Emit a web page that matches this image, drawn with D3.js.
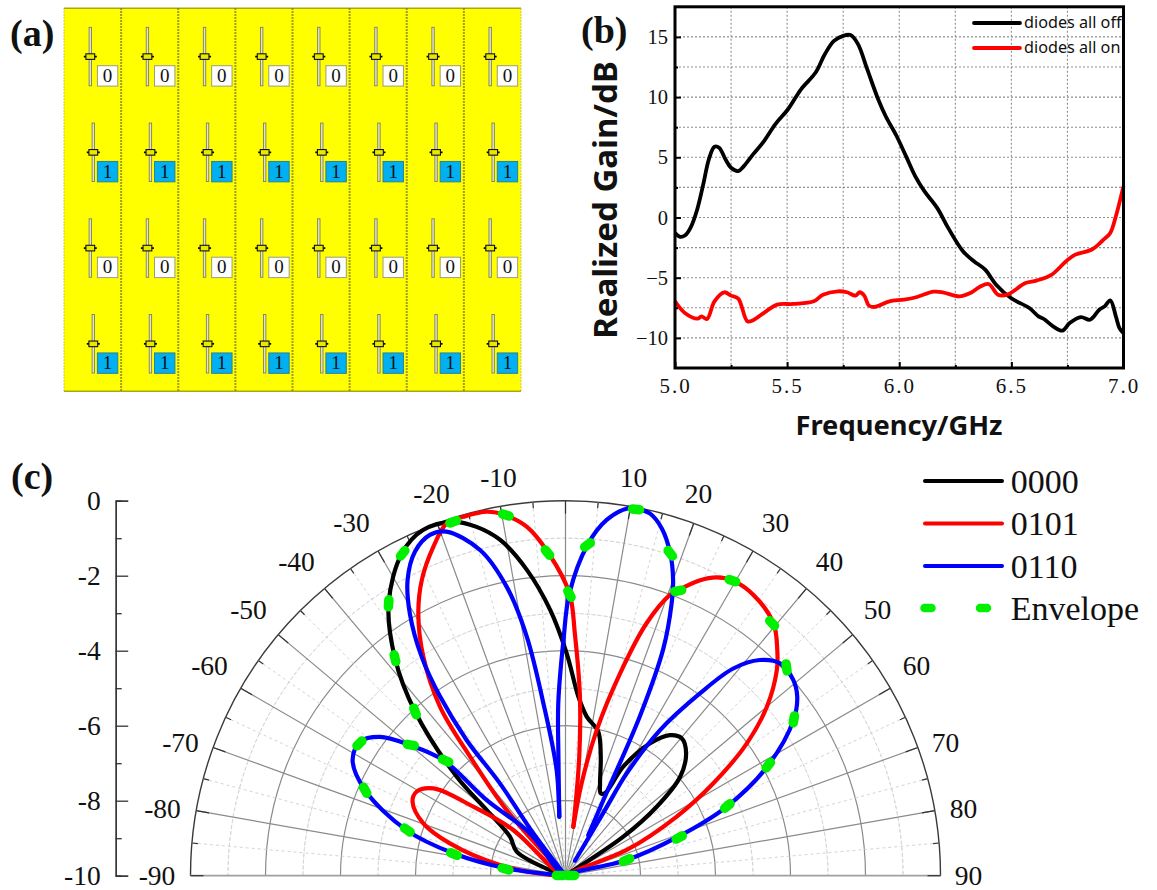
<!DOCTYPE html>
<html>
<head>
<meta charset="utf-8">
<script src="https://cdn.jsdelivr.net/npm/d3@7"></script>
<style>
  body { margin: 0; background: #fff; }
  svg { display: block; }
  text { fill: #111; }
  .serif { font-family: "Liberation Serif", serif; }
  .sans { font-family: "Noto Sans", sans-serif; }
</style>
</head>
<body>
<svg id="chart" width="1157" height="890"></svg>
<script>
// panel (a): coding sequence of each row, repeated over the columns
const rowCodes = [0, 1, 0, 1];
const columns = d3.range(8);

// panel (b): frequency in GHz, realized gain in dB
const offFreq = [5.0,5.023,5.044,5.069,5.099,5.126,5.151,5.176,5.197,5.225,5.25,5.282,5.307,5.348,5.397,5.447,5.504,5.562,5.627,5.668,5.709,5.75,5.783,5.816,5.857,5.906,5.939,5.988,6.03,6.071,6.112,6.169,6.218,6.284,6.333,6.383,6.432,6.498,6.58,6.621,6.645,6.686,6.727,6.76,6.81,6.851,6.892,6.916,6.941,6.966,6.982,7.0];
const offGain = [-1.28,-1.61,-1.5,-0.86,0.67,2.75,4.83,5.88,5.8,4.83,4.13,3.86,4.27,5.24,6.35,7.74,8.99,10.65,12.04,13.56,14.67,15.09,15.15,14.4,12.32,9.82,8.43,6.77,5.1,3.44,2.19,0.8,-0.86,-2.8,-3.63,-4.33,-5.58,-6.69,-7.52,-8.21,-8.43,-9.04,-9.4,-8.77,-8.27,-8.49,-7.66,-7.38,-6.88,-8.21,-9.18,-9.6];
const onFreq = [5.0,5.044,5.102,5.118,5.143,5.176,5.22,5.25,5.282,5.323,5.348,5.406,5.455,5.529,5.619,5.66,5.726,5.767,5.805,5.824,5.844,5.865,5.89,5.956,6.021,6.079,6.153,6.194,6.268,6.317,6.358,6.399,6.44,6.481,6.563,6.612,6.678,6.744,6.785,6.859,6.908,6.941,6.966,7.0];
const onGain = [-6.96,-7.93,-8.4,-8.21,-8.43,-6.96,-6.21,-6.49,-6.74,-8.63,-8.54,-7.79,-7.24,-7.18,-6.96,-6.41,-6.13,-6.21,-6.49,-6.21,-6.49,-7.32,-7.43,-6.96,-6.82,-6.6,-6.16,-6.21,-6.55,-6.27,-5.77,-5.52,-6.41,-6.41,-5.44,-5.24,-4.77,-3.63,-3.08,-2.66,-1.89,-1.28,0.11,2.61];
const freqTicks = [5.0, 5.5, 6.0, 6.5, 7.0];
const gainTicks = [15, 10, 5, 0, -5, -10];

// panel (c): [angle in degrees, gain in dB], one list per lobe so the nulls stay sharp
const code0000 = [[-90,-10],[-71.8,-9.66],[-63.8,-8.55],[-54.9,-8.19],[-50.2,-7.26],[-47.7,-6.08],[-42.5,-4.06],[-38.1,-2.63],[-33.0,-1.34],[-26.9,-0.36],[-22.4,-0.03],[-17.6,-0.1],[-14.3,-0.4],[-11.0,-0.88],[-7.2,-1.78],[-3.3,-2.9],[0.3,-4.07],[4.1,-5.21],[7.6,-5.72],[12.8,-6.06],[16.5,-6.69],[20.5,-7.37],[23.1,-7.61],[25.6,-7.56],[27.9,-6.71],[32.6,-5.81],[36.6,-5.33],[40.2,-5.2],[44.6,-5.42],[49.2,-5.96],[52.9,-6.95],[56.0,-8.14],[56.7,-9.64],[60,-10]];
const code0101a = [[-90,-10],[-87.5,-9.59],[-80.8,-8.23],[-74.4,-6.8],[-69.8,-5.96],[-64.2,-5.47],[-60.6,-5.44],[-56.5,-5.78],[-53.2,-6.93],[-48.8,-8.15],[-65.6,-9.74],[-60,-10]];
const code0101b = [[-45,-10],[-41.9,-7.65],[-38.7,-5.93],[-36.6,-4.39],[-33.0,-3.04],[-29.3,-1.98],[-25.9,-1.23],[-21.9,-0.55],[-18.6,-0.08],[-15.9,-0.05],[-12.2,-0.07],[-9.5,-0.25],[-6.3,-0.64],[-3.0,-1.39],[0.8,-2.47],[2.2,-3.53],[4.6,-5.21],[6.6,-6.81],[9.1,-8.68]];
const code0101c = [[9.1,-8.68],[9.9,-7.5],[12.1,-6.03],[15.1,-4.41],[17.8,-2.93],[20.4,-2.01],[21.3,-1.85],[24.5,-1.34],[26.9,-1.08],[29.6,-0.95],[33.8,-0.99],[39.5,-1.28],[43.2,-1.75],[45.8,-2.14],[50.0,-2.99],[53.9,-4.02],[58.0,-5.35],[62.0,-6.64],[67.2,-8.23],[63.1,-9.67],[60,-10]];
const code0110a = [[-90,-10],[-82.9,-8.42],[-78.7,-6.95],[-74.0,-5.59],[-66.9,-4.19],[-61.5,-3.54],[-56.9,-3.46],[-53.2,-3.82],[-50.0,-4.58],[-46.6,-5.51],[-46.2,-7.09],[-40.0,-8.53],[-50.3,-9.69],[-50,-10]];
const code0110b = [[-45,-10],[-37.2,-8.58],[-35.4,-6.98],[-36.1,-5.52],[-35.0,-4.17],[-33.3,-3.01],[-30.7,-1.87],[-28.1,-1.06],[-24.9,-0.47],[-21.7,-0.22],[-19.1,-0.29],[-14.7,-1.02],[-11.5,-2.14],[-9.2,-3.54],[-7.3,-5.37],[-4.8,-7.17],[-6.0,-8.42]];
const code0110c = [[-6.0,-8.42],[-3.4,-6.82],[-2.4,-5.4],[-0.5,-3.72],[0.8,-2.47],[3.8,-1.16],[6.6,-0.45],[9.7,-0.06],[10.9,-0.03],[13.1,-0.08],[15.5,-0.39],[18.0,-0.96],[20.0,-1.61],[21.3,-2.21],[23.3,-3.4],[25.0,-5.3],[26.6,-7.74],[29.3,-8.76]];
const code0110d = [[32.3,-9.53],[31.0,-7.96],[30.9,-6.82],[33.0,-5.37],[36.4,-3.96],[39.0,-2.89],[42.0,-2.26],[45.3,-1.95],[49.3,-1.99],[52.3,-2.19],[55.7,-2.64],[61.4,-3.84],[66.8,-5.32],[70.9,-6.82],[75.6,-8.32],[62.6,-9.86],[60,-10]];
// envelope: centre of each green dash, broken where the envelope jumps between lobes
const envelopeRuns = [
  [[-88,-9.85],[88,-9.85]],
  [[-83.6,-8.39],[-79.0,-6.97],[-73.9,-5.61],[-66.9,-4.19],[-57.3,-3.47],[-49.8,-4.6],[-46.2,-5.57]],
  [[-42.5,-4.06],[-38.1,-2.63],[-33.0,-1.34],[-26.8,-0.37],[-17.6,-0.1],[-9.4,-0.25],[-3.2,-1.37],[0.8,-2.49]],
  [[3.8,-1.16],[10.9,-0.05],[18.0,-0.96]],
  [[21.6,-1.83],[29.5,-0.96],[39.3,-1.3]],
  [[46.7,-1.9],[55.6,-2.62],[61.4,-3.84],[66.7,-5.3],[71.4,-6.8],[75.6,-8.32]]
];
const spokes = d3.range(-90, 91, 5);
const rings = d3.range(-9, 1);
const angleLabels = [-90,-80,-70,-60,-50,-40,-30,-20,-10,10,20,30,40,50,60,70,80,90];
const radialTicks = [0,-2,-4,-6,-8,-10];
const radialMinor = [-1,-3,-5,-7,-9];
const legendNames = ["0000", "0101", "0110"];

const svg = d3.select("#chart");

// ---------- panel (a) ----------
const colX = d3.scaleBand().domain(columns).range([64, 521]);
const rowY = d3.scaleBand().domain(d3.range(rowCodes.length)).range([8.3, 391.3]);
const panelA = svg.append("g");

panelA.append("rect").attr("x", 64).attr("y", 8.3).attr("width", 457).attr("height", 383)
  .attr("fill", "#ffff00");
panelA.selectAll("line.edge").data([8.3, 391.3]).enter().append("line")
  .attr("x1", 64).attr("x2", 521).attr("y1", d => d).attr("y2", d => d)
  .attr("stroke", "#a8a810").attr("stroke-width", 1.4);
panelA.selectAll("line.div").data(d3.range(9)).enter().append("line")
  .attr("x1", d => 64 + d * colX.bandwidth()).attr("x2", d => 64 + d * colX.bandwidth())
  .attr("y1", 8.3).attr("y2", 392)
  .attr("stroke", d => (d === 0 || d === 8) ? "#b4b460" : "#7f7f20")
  .attr("stroke-width", d => (d === 0 || d === 8) ? 1 : 2)
  .attr("stroke-dasharray", "1.5 1.5");

rowCodes.forEach((code, r) => {
  columns.forEach(c => {
    const cell = panelA.append("g").attr("transform", `translate(${colX(c)},${rowY(r)})`);
    const slotX = r % 2 ? 29.3 : 26.3;
    cell.append("rect").attr("x", slotX - 1.2).attr("y", 19).attr("width", 2.4).attr("height", 58.5)
      .attr("fill", "#e4e4c8").attr("stroke", "#7e7e60").attr("stroke-width", 0.9);
    cell.append("line").attr("x1", slotX - 6.5).attr("x2", slotX + 6.5).attr("y1", 48.3).attr("y2", 48.3)
      .attr("stroke", "#000").attr("stroke-width", 1.7);
    cell.append("rect").attr("x", slotX - 4.4).attr("y", 45.5).attr("width", 8.8).attr("height", 5.6)
      .attr("fill", "#e8e800").attr("stroke", "#111").attr("stroke-width", 1.1);
    cell.append("rect").attr("x", 33.4).attr("y", 57.4).attr("width", 20.4).attr("height", 20.4)
      .attr("fill", code ? "#00b0f0" : "#fff")
      .attr("stroke", code ? "#2f7f96" : "#9c9c80").attr("stroke-width", 1);
    cell.append("text").attr("class", "serif").attr("x", 43.6).attr("y", 73.6)
      .attr("text-anchor", "middle").style("font-size", "19px").text(code);
  });
});

// ---------- panel (b) ----------
const xB = d3.scaleLinear().domain([5, 7]).range([675, 1123.5]);
const yB = d3.scaleLinear().domain([-12.5, 17.5]).range([368, 6.8]);
const panelB = svg.append("g");

panelB.selectAll("line.gx").data(d3.range(5.25, 7, 0.25)).enter().append("line")
  .attr("x1", d => xB(d)).attr("x2", d => xB(d)).attr("y1", yB(17.5)).attr("y2", yB(-12.5))
  .attr("stroke", "#8f8f8f").attr("stroke-width", 1.1).attr("stroke-dasharray", "2 2");
panelB.selectAll("line.gy").data(d3.range(-10, 17.5, 2.5)).enter().append("line")
  .attr("x1", xB(5)).attr("x2", xB(7)).attr("y1", d => yB(d)).attr("y2", d => yB(d))
  .attr("stroke", "#8f8f8f").attr("stroke-width", 1.1).attr("stroke-dasharray", "2 2");

const lineB = d3.line().x(d => xB(d[0])).y(d => yB(d[1])).curve(d3.curveCatmullRom);
panelB.append("path").datum(d3.zip(offFreq, offGain)).attr("d", lineB)
  .attr("fill", "none").attr("stroke", "#000").attr("stroke-width", 3.8);
panelB.append("path").datum(d3.zip(onFreq, onGain)).attr("d", lineB)
  .attr("fill", "none").attr("stroke", "#f00").attr("stroke-width", 3.8);

// ticks point inward
const axisXB = panelB.append("g").attr("transform", `translate(0,${yB(-12.5)})`)
  .call(d3.axisBottom(xB).tickValues(freqTicks).tickSize(-6).tickPadding(10).tickFormat(d3.format(".1f")));
const axisYB = panelB.append("g").attr("transform", `translate(${xB(5)},0)`)
  .call(d3.axisLeft(yB).tickValues(gainTicks).tickSize(-6).tickPadding(7));
panelB.append("g").attr("transform", `translate(0,${yB(-12.5)})`)
  .call(d3.axisBottom(xB).tickValues([5.25, 5.75, 6.25, 6.75]).tickSize(-3).tickFormat(""));
panelB.append("g").attr("transform", `translate(${xB(5)},0)`)
  .call(d3.axisLeft(yB).tickValues([-7.5, -2.5, 2.5, 7.5, 12.5]).tickSize(-3).tickFormat(""));
panelB.selectAll(".domain").remove();
panelB.selectAll(".tick line").attr("stroke", "#000").attr("stroke-width", 2);
axisXB.selectAll("text").attr("class", "serif").style("font-size", "21px").style("letter-spacing", "2px");
axisYB.selectAll("text").attr("class", "serif").style("font-size", "20.5px");

panelB.append("rect").attr("x", xB(5)).attr("y", yB(17.5))
  .attr("width", xB(7) - xB(5)).attr("height", yB(-12.5) - yB(17.5))
  .attr("fill", "none").attr("stroke", "#000").attr("stroke-width", 3);

[["diodes all off", "#000", 23], ["diodes all on", "#f00", 48]].forEach(([name, color, y]) => {
  panelB.append("line").attr("x1", 974).attr("x2", 1020).attr("y1", y).attr("y2", y)
    .attr("stroke", color).attr("stroke-width", 3.8).attr("stroke-linecap", "round");
  panelB.append("text").attr("class", "sans").attr("x", 1024).attr("y", y + 5)
    .style("font-size", "16.2px").text(name);
});

panelB.append("text").attr("class", "sans")
  .attr("transform", "translate(617,200) rotate(-90)").attr("text-anchor", "middle")
  .style("font-size", "33px").style("font-weight", 700).text("Realized Gain/dB");
panelB.append("text").attr("class", "sans").attr("x", 899).attr("y", 435)
  .attr("text-anchor", "middle").style("font-size", "27.3px").style("font-weight", 700).text("Frequency/GHz");

// ---------- panel (c) ----------
const cx = 565.5, cy = 875.7, outerR = 375;
const angle = d3.scaleLinear().domain([-90, 90]).range([-Math.PI / 2, Math.PI / 2]);
const radius = d3.scaleLinear().domain([-10, 0]).range([0, outerR]);
const polar = svg.append("g").attr("transform", `translate(${cx},${cy})`);
const arc = d3.arc().startAngle(angle(-90)).endAngle(angle(90));

// dashed 1 dB rings and 5 degree spokes go under the solid ones
polar.selectAll("path.ring").data(rings).enter().append("path")
  .attr("d", d => arc({ innerRadius: radius(d), outerRadius: radius(d) }))
  .attr("fill", "none")
  .attr("stroke", d => d === 0 ? "#3a3a3a" : (d % 2 === 0 ? "#8a8a8a" : "#d4d4d4"))
  .attr("stroke-width", d => d === 0 ? 1.4 : (d % 2 === 0 ? 1.2 : 1))
  .attr("stroke-dasharray", d => d % 2 === 0 ? null : "3 3");

polar.selectAll("line.spoke").data(spokes).enter().append("line")
  .attr("x1", 0).attr("y1", 0)
  .attr("x2", d => d3.pointRadial(angle(d), outerR)[0])
  .attr("y2", d => d3.pointRadial(angle(d), outerR)[1])
  .attr("stroke", d => Math.abs(d) === 90 ? "#a0a0a0" : (d % 10 === 0 ? "#8a8a8a" : "#d4d4d4"))
  .attr("stroke-width", d => Math.abs(d) === 90 ? 1.8 : (d % 10 === 0 ? 1.2 : 1))
  .attr("stroke-dasharray", d => d % 10 === 0 ? null : "3 3");

polar.selectAll("line.tick").data(spokes).enter().append("line")
  .attr("x1", d => d3.pointRadial(angle(d), outerR)[0])
  .attr("y1", d => d3.pointRadial(angle(d), outerR)[1])
  .attr("x2", d => d3.pointRadial(angle(d), outerR - (d % 10 === 0 ? 13 : 6))[0])
  .attr("y2", d => d3.pointRadial(angle(d), outerR - (d % 10 === 0 ? 13 : 6))[1])
  .attr("stroke", "#333").attr("stroke-width", 1.2);

const radialLine = d3.lineRadial()
  .angle(d => angle(d[0])).radius(d => radius(d[1]))
  .curve(d3.curveCatmullRom);

const series = [
  { color: "#000", lobes: [code0000] },
  { color: "#f00", lobes: [code0101a, code0101b, code0101c] },
  { color: "#00f", lobes: [code0110a, code0110b, code0110c, code0110d] }
];
series.forEach(s => {
  s.lobes.forEach(lobe => {
    polar.append("path").datum(lobe).attr("d", radialLine)
      .attr("fill", "none").attr("stroke", s.color).attr("stroke-width", 4.2)
      .attr("stroke-linejoin", "round").attr("stroke-linecap", "round");
  });
});

// one short green stroke per dash, laid along the direction of its run
const dashHalf = 3.5;
envelopeRuns.forEach(run => {
  const pts = run.map(d => d3.pointRadial(angle(d[0]), radius(d[1])));
  pts.forEach((p, i) => {
    const a = pts[Math.max(i - 1, 0)], b = pts[Math.min(i + 1, pts.length - 1)];
    const len = Math.hypot(b[0] - a[0], b[1] - a[1]);
    const ux = (b[0] - a[0]) / len, uy = (b[1] - a[1]) / len;
    polar.append("line")
      .attr("x1", p[0] - ux * dashHalf).attr("y1", p[1] - uy * dashHalf)
      .attr("x2", p[0] + ux * dashHalf).attr("y2", p[1] + uy * dashHalf)
      .attr("stroke", "#00f000").attr("stroke-width", 9.5).attr("stroke-linecap", "round");
  });
});

// angle labels sit on a slightly flattened ring outside the arc
const labelSpots = { "-90":[-408.5,0], "-80":[-403,-67], "-70":[-385,-133], "-60":[-356,-210], "-50":[-317,-266], "-40":[-269,-314], "-30":[-214,-353], "-20":[-134,-382], "-10":[-67,-398], "10":[68,-398], "20":[133,-382], "30":[210,-353], "40":[264,-314], "50":[312,-266], "60":[351,-210], "70":[380,-133], "80":[398,-67], "90":[403,0] };
polar.selectAll("text.angle").data(angleLabels).enter().append("text")
  .attr("class", "serif").attr("text-anchor", "middle").attr("dominant-baseline", "central")
  .attr("x", d => labelSpots[d][0]).attr("y", d => labelSpots[d][1])
  .style("font-size", "27.5px").text(d => d);

// detached radial axis on the left
const yC = d3.scaleLinear().domain([-10, 0]).range([cy, cy - outerR]);
const radial = svg.append("g").attr("transform", "translate(115.7,0)");
radial.append("g").call(d3.axisLeft(yC).tickValues(radialTicks).tickSize(-12.5).tickPadding(15).tickFormat(d => String(d)));
radial.append("g").call(d3.axisLeft(yC).tickValues(radialMinor).tickSize(-6).tickFormat(""));
radial.selectAll(".domain").attr("stroke", "#333").attr("stroke-width", 1.3);
radial.selectAll(".tick line").attr("stroke", "#333").attr("stroke-width", 1.3);
radial.selectAll("text").attr("class", "serif").style("font-size", "27.5px");

// legend of panel (c)
const legendY = [481, 523.5, 566];
legendNames.forEach((name, i) => {
  svg.append("line").attr("x1", 925).attr("x2", 1002).attr("y1", legendY[i]).attr("y2", legendY[i])
    .attr("stroke", series[i].color).attr("stroke-width", 4).attr("stroke-linecap", "round");
  svg.append("text").attr("class", "serif").attr("x", 1010.7).attr("y", legendY[i] + 11.5)
    .style("font-size", "34px").text(name);
});
svg.append("line").attr("x1", 924.5).attr("x2", 987).attr("y1", 608).attr("y2", 608)
  .attr("stroke", "#00f000").attr("stroke-width", 8.5).attr("stroke-linecap", "round")
  .attr("stroke-dasharray", "7 48.5");
svg.append("text").attr("class", "serif").attr("x", 1010.7).attr("y", 619.5)
  .style("font-size", "34px").text("Envelope");

// panel letters
[["(a)", 10, 46], ["(b)", 581, 43], ["(c)", 11, 489]].forEach(([t, x, y]) => {
  svg.append("text").attr("class", "serif").attr("x", x).attr("y", y)
    .style("font-size", "38px").style("font-weight", 700).text(t);
});
</script>
</body>
</html>
